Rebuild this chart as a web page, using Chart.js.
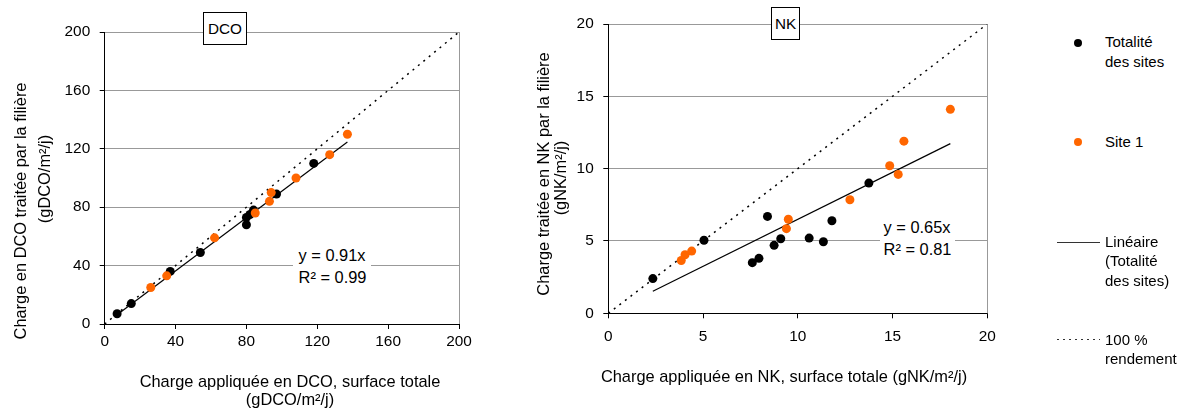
<!DOCTYPE html>
<html><head><meta charset="utf-8">
<script src="https://cdn.jsdelivr.net/npm/chart.js@4.4.1/dist/chart.umd.min.js"></script>
<style>
html,body{margin:0;padding:0;background:#fff;width:1184px;height:412px;overflow:hidden;font-family:'Liberation Sans',Arial,sans-serif;color:#000}
#wrap{position:relative;width:1184px;height:412px}
canvas{position:absolute;top:0}
.t{position:absolute;white-space:nowrap;line-height:1.15;transform:translate(-50%,-50%);font-size:16.4px}
.r{transform:translate(-50%,-50%) rotate(-90deg)}
.box{position:absolute;background:#fff;border:1px solid #000;box-sizing:border-box;font-size:15.3px;display:flex;align-items:center;justify-content:center}
.eq{position:absolute;background:#fff}
.lg{position:absolute;font-size:15px;white-space:nowrap}
.dot{position:absolute;width:8px;height:8px;border-radius:50%}
</style>
</head><body><div id="wrap">
<canvas id="c1" width="480" height="412" style="left:0"></canvas>
<canvas id="c2" width="520" height="412" style="left:480px"></canvas>
</div>
<script>
// ---------- data ----------
const dcoTicks = [0, 40, 80, 120, 160, 200];
const dcoAllX = [7, 15, 37, 54, 80, 80, 82, 84, 97, 118];
const dcoAllY = [7, 14, 36, 49, 68, 73, 75, 78, 89, 110];
const dcoSite1X = [26, 35, 62, 85, 93, 94, 108, 127, 137];
const dcoSite1Y = [25, 33, 59, 76, 84, 90, 100, 116, 130];
const dcoSlope = 0.91;
const dcoR2 = 0.99;

const nkTicks = [0, 5, 10, 15, 20];
const nkAllX = [2.35, 5.05, 7.6, 7.95, 8.4, 8.75, 9.1, 10.6, 11.35, 11.8, 13.75];
const nkAllY = [2.4, 5.05, 3.5, 3.8, 6.7, 4.7, 5.15, 5.2, 4.95, 6.4, 9.0];
const nkSite1X = [3.85, 4.05, 4.4, 9.4, 9.5, 12.75, 14.85, 15.3, 15.6, 18.05];
const nkSite1Y = [3.65, 4.05, 4.3, 5.85, 6.5, 7.85, 10.2, 9.6, 11.9, 14.1];
const nkSlope = 0.65;
const nkR2 = 0.81;

const seriesNames = ['Totalité des sites', 'Site 1', 'Linéaire (Totalité des sites)', '100 % rendement'];

// ---------- helpers ----------
const ORANGE = '#FF6600';
const FONT = "'Liberation Sans', Arial, sans-serif";
const zip = (xs, ys) => xs.map((x, i) => ({x: x, y: ys[i]}));

const framePlugin = {
  id: 'frame',
  beforeDatasetsDraw(chart) {
    const a = chart.chartArea, ctx = chart.ctx;
    ctx.save();
    ctx.strokeStyle = '#999';
    ctx.lineWidth = 1;
    ctx.beginPath();
    ctx.moveTo(Math.round(a.right) + 0.5, a.top);
    ctx.lineTo(Math.round(a.right) + 0.5, a.bottom);
    ctx.stroke();
    ctx.restore();
  }
};

function makeChart(id, c) {
  const allX = c.ax.concat(c.sx);
  const x0 = Math.min(...allX), x1 = Math.max(...allX);
  const maxV = c.ticks[c.ticks.length - 1];
  return new Chart(document.getElementById(id), {
    type: 'scatter',
    data: {datasets: [
      {label: seriesNames[1], data: zip(c.sx, c.sy), backgroundColor: ORANGE, borderWidth: 0, pointRadius: 4.5, order: 1},
      {label: seriesNames[0], data: zip(c.ax, c.ay), backgroundColor: '#000', borderWidth: 0, pointRadius: 4.5, order: 2},
      {label: seriesNames[2], data: [{x: x0, y: c.slope * x0}, {x: x1, y: c.slope * x1}], showLine: true, borderColor: '#000', borderWidth: 1.2, pointRadius: 0, order: 3},
      {label: seriesNames[3], data: [{x: 0, y: 0}, {x: maxV, y: maxV}], showLine: true, borderColor: '#000', borderWidth: 1.5, borderDash: [2, 5], pointRadius: 0, order: 4}
    ]},
    options: {
      responsive: false, animation: false, devicePixelRatio: 1,
      layout: {padding: c.pad},
      plugins: {legend: {display: false}, tooltip: {enabled: false}},
      scales: {
        x: {
          type: 'linear', min: 0, max: maxV,
          afterBuildTicks: s => { s.ticks = c.ticks.map(v => ({value: v})); },
          ticks: {font: {family: FONT, size: 15.4, lineHeight: c.xlh}, color: '#000', padding: c.xpad, maxRotation: 0},
          grid: {drawOnChartArea: false, tickLength: 5, tickColor: '#000'},
          border: {color: '#000', width: 1},
          afterFit: s => { s.height = c.xh; }
        },
        y: {
          type: 'linear', min: 0, max: maxV,
          afterBuildTicks: s => { s.ticks = c.ticks.map(v => ({value: v})); },
          ticks: {font: {family: FONT, size: 15.4}, color: '#000', padding: c.ypad},
          grid: {color: ctx => (ctx.tick && ctx.tick.value === 0) ? 'rgba(0,0,0,0)' : '#999', tickLength: 5, tickColor: '#000'},
          border: {color: '#000', width: 1},
          afterFit: s => { s.width = c.yw; }
        }
      }
    },
    plugins: [framePlugin]
  });
}

makeChart('c1', {ax: dcoAllX, ay: dcoAllY, sx: dcoSite1X, sy: dcoSite1Y, slope: dcoSlope, ticks: dcoTicks,
  pad: {left: 0, top: 32, right: 21, bottom: 0}, xh: 88, yw: 104.7, xpad: 3.7, xlh: 1.2, ypad: 9.5});
makeChart('c2', {ax: nkAllX, ay: nkAllY, sx: nkSite1X, sy: nkSite1Y, slope: nkSlope, ticks: nkTicks,
  pad: {left: 0, top: 24, right: 12.7, bottom: 0}, xh: 98.7, yw: 128.3, xpad: 0, xlh: 2.42, ypad: 9.6});

// ---------- text overlays ----------
const wrap = document.getElementById('wrap');
function add(cls, html, style) {
  const d = document.createElement('div');
  d.className = cls; d.innerHTML = html;
  Object.assign(d.style, style);
  wrap.appendChild(d);
  return d;
}
// axis titles
add('t r', 'Charge en DCO traitée par la filière', {left: '20px', top: '211px'});
add('t r', '(gDCO/m²/j)', {left: '43.5px', top: '179px'});
add('t', 'Charge appliquée en DCO, surface totale', {left: '290px', top: '381px'});
add('t', '(gDCO/m²/j)', {left: '290px', top: '398.6px'});
add('t r', 'Charge traitée en NK par la filière', {left: '543px', top: '174px'});
add('t r', '(gNK/m²/j)', {left: '560px', top: '178px'});
add('t', 'Charge appliquée en NK, surface totale (gNK/m²/j)', {left: '784px', top: '376px'});
// titles in boxes
add('box', 'DCO', {left: '203px', top: '12px', width: '44px', height: '33px'});
add('box', 'NK', {left: '771px', top: '7px', width: '29px', height: '33px'});
// equations
add('eq', '', {left: '293px', top: '244px', width: '78px', height: '44px'});
add('t', 'y = ' + dcoSlope.toFixed(2) + 'x', {left: '332px', top: '255px'});
add('t', 'R² = ' + dcoR2.toFixed(2), {left: '332.5px', top: '276.7px'});
add('eq', '', {left: '880px', top: '216px', width: '75px', height: '44px'});
add('t', 'y = ' + nkSlope.toFixed(2) + 'x', {left: '917px', top: '227.3px'});
add('t', 'R² = ' + nkR2.toFixed(2), {left: '917.5px', top: '249.3px'});
// legend
add('dot', '', {left: '1073.7px', top: '39.3px', background: '#000'});
add('lg', 'Totalité<br>des sites', {left: '1105px', top: '31.7px', lineHeight: '20px'});
add('dot', '', {left: '1073.7px', top: '138.3px', background: ORANGE});
add('lg', 'Site 1', {left: '1105px', top: '131.7px', lineHeight: '20px'});
add('lg', '', {left: '1057px', top: '241.5px', width: '43px', height: '1.5px', background: '#333'});
add('lg', 'Linéaire<br>(Totalité<br>des sites)', {left: '1105px', top: '232px', lineHeight: '19.3px'});
add('lg', '', {left: '1057px', top: '338.5px', width: '43px', height: '1.5px', background: 'repeating-linear-gradient(to right,#333 0 2px,transparent 2px 6px)'});
add('lg', '100 %<br>rendement', {left: '1105px', top: '329.5px', lineHeight: '19px'});
</script>
</body></html>
